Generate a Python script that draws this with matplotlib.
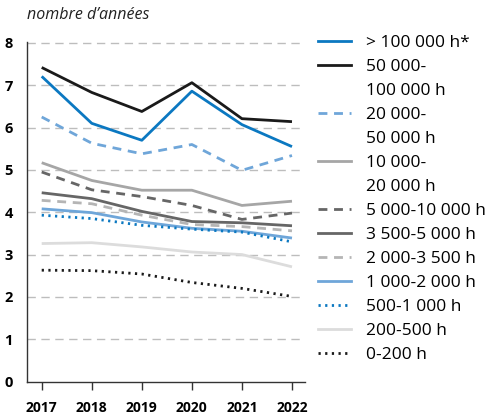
import matplotlib
matplotlib.use("Agg")
import matplotlib.pyplot as plt
from matplotlib.lines import Line2D

plt.rcParams['font.family'] = ['Open Sans', 'DejaVu Sans']

years = [2017, 2018, 2019, 2020, 2021, 2022]

s_100k_plus = [7.21, 6.10, 5.70, 6.86, 6.07, 5.55]
s_50k_100k = [7.42, 6.83, 6.38, 7.06, 6.21, 6.14]
s_20k_50k = [6.25, 5.63, 5.38, 5.60, 4.99, 5.34]
s_10k_20k = [5.17, 4.75, 4.52, 4.52, 4.16, 4.26]
s_5k_10k = [4.95, 4.53, 4.37, 4.16, 3.83, 3.98]
s_3500_5k = [4.46, 4.32, 4.02, 3.78, 3.75, 3.68]
s_2k_3500 = [4.28, 4.20, 3.93, 3.71, 3.66, 3.56]
s_1k_2k = [4.08, 3.99, 3.77, 3.62, 3.55, 3.39]
s_500_1k = [3.93, 3.85, 3.69, 3.60, 3.53, 3.30]
s_200_500 = [3.26, 3.28, 3.18, 3.06, 3.00, 2.71]
s_0_200 = [2.63, 2.62, 2.54, 2.34, 2.20, 2.01]

y_ticks = [0, 1, 2, 3, 4, 5, 6, 7, 8]
title_text = "nombre d’années"

BLUE = "#0b78c1"
LBLUE = "#6fa6d9"
BLACK = "#1a1a1a"
DGREY = "#666666"
MGREY = "#a6a6a6"
LGREY = "#b5b5b5"
XLGREY = "#dcdcdc"

DASH = (0, (3.2, 2.4))
DOT = (0, (0.8, 1.6))

# (values, legend lines, colour, linestyle)
series = [
    (s_100k_plus, ["> 100 000 h*"], BLUE, "-"),
    (s_50k_100k, ["50 000-", "100 000 h"], BLACK, "-"),
    (s_20k_50k, ["20 000-", "50 000 h"], LBLUE, DASH),
    (s_10k_20k, ["10 000-", "20 000 h"], MGREY, "-"),
    (s_5k_10k, ["5 000-10 000 h"], DGREY, DASH),
    (s_3500_5k, ["3 500-5 000 h"], DGREY, "-"),
    (s_2k_3500, ["2 000-3 500 h"], LGREY, DASH),
    (s_1k_2k, ["1 000-2 000 h"], LBLUE, "-"),
    (s_500_1k, ["500-1 000 h"], BLUE, DOT),
    (s_200_500, ["200-500 h"], XLGREY, "-"),
    (s_0_200, ["0-200 h"], BLACK, DOT),
]

fig = plt.figure(figsize=(4.97, 4.17), dpi=100)
ax = fig.add_axes([0.0537, 0.0851, 0.56, 0.815])

for yv in y_ticks[1:]:
    ax.axhline(yv, color="#bdbdbd", lw=1.0, ls=(0, (6, 4)), zorder=0)

handles, labels = [], []
for vals, lab, col, ls in series:
    ax.plot(years, vals, color=col, ls=ls, lw=2.0, zorder=2,
            solid_capstyle="butt", dash_capstyle="butt")
    handles.append(Line2D([], [], color=col, ls=ls, lw=2.0))
    labels.append(lab[0])
    for extra in lab[1:]:
        handles.append(Line2D([], [], color="none", lw=0))
        labels.append(extra)

ax.set_xlim(2016.7, 2022.26)
ax.set_ylim(0, 8.03)
ax.set_xticks(years)
ax.set_xticklabels([str(y) for y in years], fontweight="bold", fontsize=10)
ax.set_yticks(y_ticks)
ax.set_yticklabels([str(v) for v in y_ticks], fontweight="bold", fontsize=10.5)
ax.tick_params(axis="x", length=6, width=1, color="#333333", pad=8)
ax.tick_params(axis="y", length=0, pad=10)
for side in ["top", "right"]:
    ax.spines[side].set_visible(False)
for side in ["left", "bottom"]:
    ax.spines[side].set_color("#333333")
    ax.spines[side].set_linewidth(1.0)

fig.text(0.054, 0.964, title_text, style="italic", fontsize=11.5,
         ha="left", va="center", color="#222222")

fig.legend(handles, labels, loc="upper left", bbox_to_anchor=(0.640, 0.917),
           frameon=False, fontsize=12.5, handlelength=1.9, handletextpad=0.86,
           labelspacing=0.455, borderaxespad=0, borderpad=0)

fig.savefig("out.png", dpi=100)
